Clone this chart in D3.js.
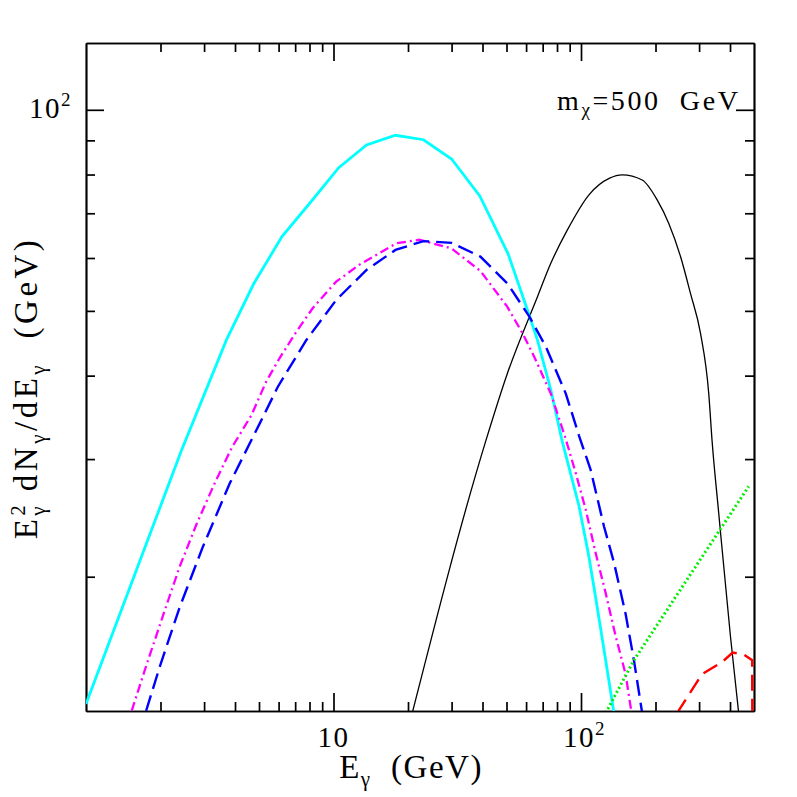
<!DOCTYPE html>
<html>
<head>
<meta charset="utf-8">
<script src="https://cdn.jsdelivr.net/npm/d3@7"></script>
<style>
  body { margin: 0; background: #fff; }
  svg { display: block; }
  text { font-family: "Liberation Serif", "Times New Roman", serif; fill: #000; white-space: pre; }
  .axis path, .axis line { stroke: #000; stroke-width: 1.7; }
  .curve { fill: none; }
</style>
</head>
<body>
<script>
// axis ranges and ticks (log scales)
const xDomain = [1, 500];
const yDomain = [Math.pow(10, 1.1), Math.pow(10, 2.1)];
const xMinorTicks = [2, 3, 4, 5, 6, 7, 8, 9, 20, 30, 40, 50, 60, 70, 80, 90, 200, 300, 400];
const xMajorTicks = [10, 100];
const yMinorTicks = [20, 30, 40, 50, 60, 70, 80, 90];
const yMajorTicks = [100];
const xTickBase = ["10", "10"];
const xTickExp = ["", "2"];
const yTickBase = ["10"];
const yTickExp = ["2"];

// E_gamma (GeV) and E^2 dN/dE (GeV)
const cyanE = [1.0, 2.43, 3.69, 4.76, 6.19, 8.0, 10.5, 13.6, 17.8, 23.1, 30.0, 39.0, 50.8, 60.7, 66.7, 75.5, 83.8, 98.2, 107.7, 116.3, 125.8, 135.9];
const cyanY = [12.9, 30.9, 45.2, 54.9, 64.6, 72.4, 81.9, 88.6, 91.6, 90.2, 84.4, 74.3, 60.8, 50.2, 45.2, 38.1, 32.0, 25.5, 21.4, 18.0, 15.0, 12.5];

const magentaE = [1.53, 1.76, 2.08, 2.39, 2.80, 3.31, 3.88, 4.66, 5.35, 6.06, 7.07, 8.25, 10.25, 12.7, 15.3, 17.9, 22.2, 30.0, 39.2, 50.4, 58.0, 64.7, 75.5, 86.2, 95.2, 104.5, 114.6, 125.8, 138.0, 151.4, 160.1];
const magentaY = [12.6, 14.8, 17.8, 20.7, 24.0, 27.6, 31.2, 34.9, 39.2, 42.5, 46.5, 50.5, 55.3, 58.6, 61.0, 63.1, 63.9, 62.0, 57.4, 50.7, 46.3, 42.7, 37.6, 32.4, 28.6, 25.2, 21.7, 18.9, 16.3, 14.3, 12.5];

const blueE = [1.75, 1.99, 2.39, 2.97, 3.81, 5.03, 5.96, 7.76, 10.25, 13.6, 17.8, 23.1, 30.0, 39.2, 50.5, 61.7, 72.1, 86.8, 98.2, 109.4, 123.8, 135.9, 151.4, 163.6, 176.7];
const blueY = [12.6, 14.7, 18.0, 22.2, 27.6, 33.9, 38.5, 45.2, 51.9, 57.6, 61.7, 63.6, 63.2, 60.3, 54.9, 49.1, 44.2, 37.6, 32.5, 28.9, 23.8, 21.0, 17.6, 15.0, 12.5];

const blackE = [20.8, 41.3, 50.4, 66.7, 75.5, 88.1, 107.7, 130.5, 146.7, 176.7, 203.1, 226.3, 252.4, 276.9, 303.9, 328.2, 338.4, 360.1, 401.5, 433.6];
const blackY = [12.5, 32.0, 40.3, 52.5, 58.9, 66.1, 74.6, 79.0, 79.9, 78.5, 73.3, 67.6, 60.3, 53.1, 46.3, 37.6, 32.0, 24.9, 16.3, 12.5];

const greenE = [125.8, 163.6, 219.6, 318.3, 475.8];
const greenY = [12.5, 15.0, 17.7, 21.8, 27.3];

const redE = [244.5, 308.4, 371.3, 410.1, 454.3, 491.5, 493];
const redY = [12.5, 14.3, 14.9, 15.4, 15.3, 15.0, 10];

// canvas
const W = 797, H = 797;
const pLeft = 86, pRight = 754, pTop = 43, pBottom = 711;

const svg = d3.select("body").append("svg")
  .attr("width", W)
  .attr("height", H);

const x = d3.scaleLog().domain(xDomain).range([pLeft, pRight]);
const y = d3.scaleLog().domain(yDomain).range([pBottom, pTop]);

// frame with inward ticks on all four sides
function drawAxis(axisFn, scale, ticks, size, transform) {
  svg.append("g")
    .attr("class", "axis")
    .attr("transform", transform)
    .call(axisFn(scale).tickValues(ticks).tickSize(-size).tickSizeOuter(0).tickFormat(""));
}
drawAxis(d3.axisBottom, x, xMinorTicks, 9, `translate(0,${pBottom})`);
drawAxis(d3.axisBottom, x, xMajorTicks, 18, `translate(0,${pBottom})`);
drawAxis(d3.axisTop, x, xMinorTicks, 9, `translate(0,${pTop})`);
drawAxis(d3.axisTop, x, xMajorTicks, 18, `translate(0,${pTop})`);
drawAxis(d3.axisLeft, y, yMinorTicks, 9, `translate(${pLeft},0)`);
drawAxis(d3.axisLeft, y, yMajorTicks, 18, `translate(${pLeft},0)`);
drawAxis(d3.axisRight, y, yMinorTicks, 9, `translate(${pRight},0)`);
drawAxis(d3.axisRight, y, yMajorTicks, 18, `translate(${pRight},0)`);

// tick labels "10" and "10^2"
xMajorTicks.forEach(function(v, i) {
  const t = svg.append("text")
    .attr("x", xTickExp[i] ? x(v) + 25 : x(v))
    .attr("y", pBottom + 36)
    .attr("text-anchor", xTickExp[i] ? "end" : "middle")
    .attr("font-size", 29)
    .attr("letter-spacing", 1.5)
    .text(xTickBase[i]);
  if (xTickExp[i]) {
    t.append("tspan").attr("dy", -12).attr("font-size", 19).text(xTickExp[i]);
  }
});
yMajorTicks.forEach(function(v, i) {
  svg.append("text")
    .attr("x", pLeft - 14)
    .attr("y", y(v) + 8)
    .attr("text-anchor", "end")
    .attr("font-size", 29)
    .attr("letter-spacing", 1.5)
    .text(yTickBase[i])
    .append("tspan").attr("dy", -12).attr("font-size", 19).text(yTickExp[i]);
});

// curves
svg.append("clipPath").attr("id", "plot")
  .append("rect")
  .attr("x", pLeft).attr("y", pTop)
  .attr("width", pRight - pLeft + 2).attr("height", pBottom - pTop);

const series = [
  {E: blackE, Y: blackY, color: "#000000", width: 1.3, dash: null, curve: d3.curveMonotoneX},
  {E: cyanE, Y: cyanY, color: "#00ffff", width: 2.8, dash: null, curve: d3.curveLinear},
  {E: magentaE, Y: magentaY, color: "#ff00ff", width: 2.3, dash: "9,4,2,4", curve: d3.curveLinear},
  {E: blueE, Y: blueY, color: "#0000ff", width: 2.4, dash: "16,7", curve: d3.curveLinear},
  {E: greenE, Y: greenY, color: "#00ee00", width: 3, dash: "2,2.6", curve: d3.curveLinear},
  {E: redE, Y: redY, color: "#ff0000", width: 2.4, dash: "16,8", curve: d3.curveLinear}
];

svg.append("g").attr("clip-path", "url(#plot)")
  .selectAll("path")
  .data(series)
  .enter()
  .append("path")
  .attr("class", "curve")
  .attr("d", s => d3.line()
      .x(d => x(d[0]))
      .y(d => y(d[1]))
      .curve(s.curve)(s.E.map((e, i) => [e, s.Y[i]])))
  .attr("stroke", s => s.color)
  .attr("stroke-width", s => s.width)
  .attr("stroke-dasharray", s => s.dash);

// mass label
const m = svg.append("text")
  .attr("x", 557)
  .attr("y", 110)
  .attr("font-size", 28)
  .attr("letter-spacing", 2.6)
  .text("m");
m.append("tspan").attr("dy", 6).attr("font-size", 19).text("χ");
m.append("tspan").attr("dy", -6).text("=500  GeV");

// x title
const xt = svg.append("text")
  .attr("x", 411)
  .attr("y", 778)
  .attr("text-anchor", "middle")
  .attr("font-size", 33)
  .attr("letter-spacing", 1.5)
  .text("E");
xt.append("tspan").attr("dy", 8).attr("font-size", 21).text("γ");
xt.append("tspan").attr("dy", -8).text("  (GeV)");

// y title
const yt = svg.append("text")
  .attr("transform", "translate(37,388) rotate(-90)")
  .attr("text-anchor", "middle")
  .attr("font-size", 33)
  .attr("letter-spacing", 3.5)
  .text("E");
yt.append("tspan").attr("dy", -12).attr("font-size", 21).text("2");
yt.append("tspan").attr("dx", -14).attr("dy", 20).attr("font-size", 21).text("γ");
yt.append("tspan").attr("dy", -8).text(" dN");
yt.append("tspan").attr("dy", 8).attr("font-size", 21).text("γ");
yt.append("tspan").attr("dy", -8).text("/dE");
yt.append("tspan").attr("dy", 8).attr("font-size", 21).text("γ");
yt.append("tspan").attr("dy", -8).text("  (GeV)");
</script>
</body>
</html>
